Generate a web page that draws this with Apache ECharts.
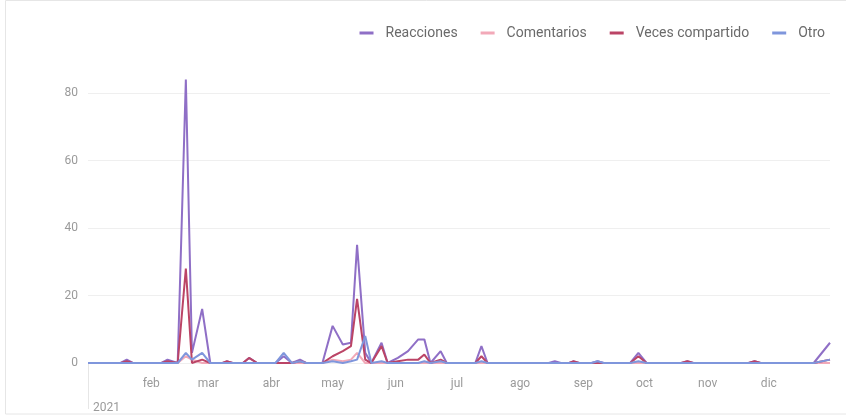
<!DOCTYPE html>
<html>
<head>
<meta charset="utf-8">
<script src="https://cdn.jsdelivr.net/npm/echarts@6/dist/echarts.min.js"></script>
<style>
html,body{margin:0;padding:0;background:#fff;}
#c{width:846px;height:417px;}
</style>
</head>
<body>
<div id="c"></div>
<script>
const dates = ["2021-01-01","2021-01-17","2021-01-20","2021-01-23","2021-02-06","2021-02-09","2021-02-14","2021-02-18","2021-02-21","2021-02-26","2021-03-02","2021-03-08","2021-03-10","2021-03-13","2021-03-18","2021-03-21","2021-03-25","2021-04-03","2021-04-07","2021-04-11","2021-04-15","2021-04-18","2021-04-26","2021-05-01","2021-05-06","2021-05-10","2021-05-13","2021-05-17","2021-05-20","2021-05-25","2021-05-28","2021-06-02","2021-06-07","2021-06-12","2021-06-15","2021-06-18","2021-06-23","2021-06-26","2021-07-10","2021-07-13","2021-07-16","2021-08-15","2021-08-18","2021-08-21","2021-08-25","2021-08-27","2021-08-30","2021-09-05","2021-09-08","2021-09-11","2021-09-24","2021-09-28","2021-10-02","2021-10-19","2021-10-22","2021-10-25","2021-11-21","2021-11-24","2021-11-27","2021-12-23","2021-12-31"];
const reacciones = [0,0,1,0,0,1,0,84,3,16,0,0,0.5,0,0,1.5,0,0,2,0,1,0,0,11,5.5,6,35,3,0,6,0,1.5,3.5,7,7,0,3.5,0,0,5,0,0,0.5,0,0,0.5,0,0,0.5,0,0,3,0,0,0.5,0,0,0.5,0,0,6];
const comentarios = [0,0,0,0,0,0,0,2,1,0,0,0,0,0,0,0,0,0,0,0,0,0,0,1,0.5,1,3,0,0,0,0,0,0,0,0,0,0,0,0,0,0,0,0,0,0,0,0,0,0,0,0,0,0,0,0,0,0,0,0,0,0];
const compartido = [0,0,0.5,0,0,0.5,0,28,0,1,0,0,0.5,0,0,1.5,0,0,0,0,0.5,0,0,2,3.5,5,19,1,0,5,0,0.5,1,1,2.5,0,1,0,0,2,0,0,0,0,0,0.5,0,0,0,0,0,2,0,0,0.5,0,0,0.5,0,0,1];
const otro = [0,0,0,0,0,0,0,3,1,3,0,0,0,0,0,0,0,0,3,0,0.5,0,0,0.5,0,0.5,1,8,0,0.5,0,0,0,0,0.5,0,0.5,0,0,0.5,0,0,0,0,0,0,0,0,0.5,0,0,0.5,0,0,0,0,0,0,0,0,1];
const seriesNames = ["Reacciones","Comentarios","Veces compartido","Otro"];
const monthLabels = ["ene","feb","mar","abr","may","jun","jul","ago","sep","oct","nov","dic"];
const yearLabel = "2021";
const yTicks = [0,20,40,60,80];

const colors = ["#8f6fc6","#f2a9b8","#bb4466","#7f96dc"];
const seriesValues = [reacciones, comentarios, compartido, otro];
const toTs = s => { const p = s.split('-').map(Number); return Date.UTC(p[0], p[1]-1, p[2]); };
const monthStarts = [];
for (let m = 1; m < 12; m++) monthStarts.push(Date.UTC(2021, m, 1));
const xMin = Date.UTC(2021,0,1), xMax = Date.UTC(2021,11,31);
const font = 'Roboto, Arial, sans-serif';

const chart = echarts.init(document.getElementById('c'));
chart.setOption({
  backgroundColor: '#fff',
  animation: false,
  color: colors,
  graphic: [{
    type: 'rect', silent: true, z: -10,
    shape: {x: 5.5, y: 0.5, width: 860, height: 413.5},
    style: {fill: 'none', stroke: '#e6e6e6', lineWidth: 1}
  }],
  legend: {
    right: 16, top: 21,
    icon: 'rect', itemWidth: 14, itemHeight: 3, itemGap: 23,
    textStyle: {color: '#6a6a6a', fontSize: 14, fontFamily: font, padding: [0,0,0,7]},
    data: seriesNames
  },
  grid: {left: 88, right: 16, top: 93, bottom: 54, containLabel: false},
  xAxis: [{
    type: 'value', min: xMin, max: xMax,
    axisLine: {show: false},
    splitLine: {show: false},
    axisTick: {show: true, customValues: [xMin], length: 46, lineStyle: {color: '#e6e6e6'}},
    axisLabel: {
      customValues: monthStarts,
      color: '#9a9a9a', fontSize: 12, margin: 15, fontFamily: font,
      formatter: v => monthLabels[new Date(v).getUTCMonth()]
    }
  },{
    type: 'value', min: xMin, max: xMax, position: 'bottom', offset: 24,
    axisLine: {show: false}, axisTick: {show: false}, splitLine: {show: false},
    axisLabel: {
      customValues: [xMin], align: 'left', padding: [0,0,0,5],
      color: '#9a9a9a', fontSize: 12, margin: 15, fontFamily: font,
      formatter: () => yearLabel
    }
  }],
  yAxis: {
    type: 'value', min: 0, max: 80, interval: 20,
    axisLine: {show: false}, axisTick: {show: false},
    axisLabel: {color: '#9a9a9a', fontSize: 12, margin: 10, fontFamily: font,
      formatter: v => yTicks.includes(v) ? String(v) : ''},
    splitLine: {lineStyle: {color: '#efefef'}}
  },
  series: seriesNames.map((n, i) => ({
    name: n, type: 'line', clip: false, showSymbol: false, symbol: 'none',
    lineStyle: {width: 2, color: colors[i]},
    data: dates.map((d, j) => [toTs(d), seriesValues[i][j]])
  }))
});
</script>
</body>
</html>
